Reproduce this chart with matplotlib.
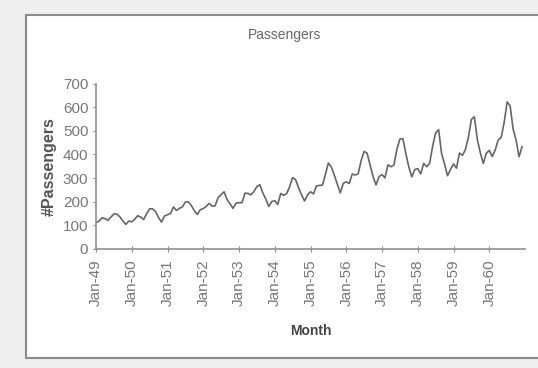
import matplotlib.pyplot as plt
from matplotlib.patches import Rectangle

# monthly airline passengers, Jan-49 .. Dec-60 (thousands)
years = ["49", "50", "51", "52", "53", "54", "55", "56", "57", "58", "59", "60"]
p49 = [112, 118, 132, 129, 121, 135, 148, 148, 136, 119, 104, 118]
p50 = [115, 126, 141, 135, 125, 149, 170, 170, 158, 133, 114, 140]
p51 = [145, 150, 178, 163, 172, 178, 199, 199, 184, 162, 146, 166]
p52 = [171, 180, 193, 181, 183, 218, 230, 242, 209, 191, 172, 194]
p53 = [196, 196, 236, 235, 229, 243, 264, 272, 237, 211, 180, 201]
p54 = [204, 188, 235, 227, 234, 264, 302, 293, 259, 229, 203, 229]
p55 = [242, 233, 267, 269, 270, 315, 364, 347, 312, 274, 237, 278]
p56 = [284, 277, 317, 313, 318, 374, 413, 405, 355, 306, 271, 306]
p57 = [315, 301, 356, 348, 355, 422, 465, 467, 404, 347, 305, 336]
p58 = [340, 318, 362, 348, 363, 435, 491, 505, 404, 359, 310, 337]
p59 = [360, 342, 406, 396, 420, 472, 548, 559, 463, 407, 362, 405]
p60 = [417, 391, 419, 461, 472, 535, 622, 606, 508, 461, 390, 432]

passengers = p49 + p50 + p51 + p52 + p53 + p54 + p55 + p56 + p57 + p58 + p59 + p60
months = list(range(len(passengers)))
tick_labels = [f"Jan-{y}" for y in years]

plt.rcParams["font.family"] = ["Liberation Sans", "DejaVu Sans"]

fig = plt.figure(figsize=(5.38, 3.68), dpi=100, facecolor="#efefef")
# white chart panel with grey frame, behind the axes
fig.patches.append(Rectangle((25.5 / 538, 1 - 358 / 368), 0.99, (358 - 15) / 368,
                             transform=fig.transFigure, facecolor="white",
                             edgecolor="#8a8a8a", linewidth=1.5, zorder=-5))

ax = fig.add_axes([96 / 538, 1 - 249 / 368, 429 / 538, 165.5 / 368], zorder=2)
ax.set_facecolor("none")
ax.plot(months, passengers, color="#666666", linewidth=1.2)

ax.set_xlim(0, 144)
ax.set_ylim(0, 700)
ax.set_yticks(range(0, 701, 100))
ax.set_xticks(range(0, 144, 12))
ax.set_xticklabels(tick_labels, rotation=90)

for side in ("top", "right"):
    ax.spines[side].set_visible(False)
for side in ("left", "bottom"):
    ax.spines[side].set_color("#909090")
    ax.spines[side].set_linewidth(1.2)

ax.tick_params(axis="y", direction="out", length=2.5, width=0.8, colors="#909090",
               labelcolor="#777777", labelsize=11, pad=3)
ax.tick_params(axis="x", direction="inout", length=5, width=0.8, colors="#909090",
               labelcolor="#777777", labelsize=11, pad=5)

ax.set_ylabel("#Passengers", fontsize=11.5, fontweight="bold", color="#555555")
ax.yaxis.set_label_coords(-0.091, 0.5)
ax.set_xlabel("Month", fontsize=10, fontweight="bold", color="#444444")
ax.xaxis.set_label_coords(0.501, -0.455)

fig.text(284.5 / 538, 1 - 35 / 368, "Passengers", ha="center", va="center",
         fontsize=10, color="#666666", zorder=3)

fig.savefig("out.png", dpi=100, facecolor=fig.get_facecolor())
